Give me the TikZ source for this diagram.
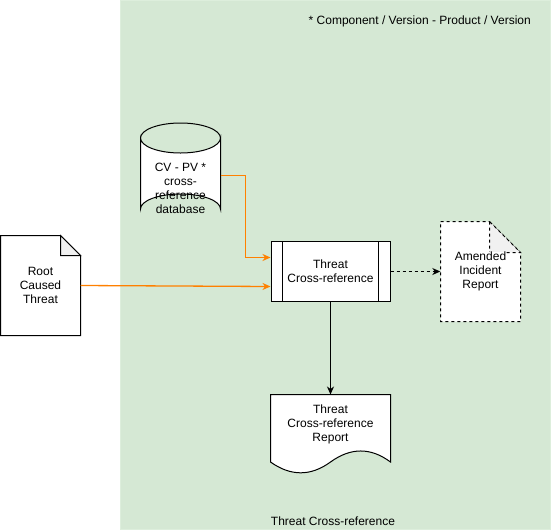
\documentclass[tikz,border=0pt]{standalone}
\usepackage{fontspec}
\setmainfont{Liberation Sans}
\usetikzlibrary{arrows.meta,calc}
\definecolor{grp}{HTML}{D5E8D4}
\definecolor{grpline}{HTML}{DDEEDC}
\definecolor{orng}{HTML}{FF8000}
\definecolor{foldc}{HTML}{F1F1F1}
\tikzset{
  lbl/.style={font=\fontsize{12}{14}\selectfont, align=center, inner sep=0pt},
  shp/.style={draw=black, line width=1pt, fill=white},
  carrow/.style={-{Stealth[length=8pt,width=7pt,inset=2.5pt]}, line width=1pt},
  oarrow/.style={carrow, color=orng, line width=1.3pt},
}
\begin{document}
\begin{tikzpicture}[x=1pt,y=-1pt]
\useasboundingbox (0,0) rectangle (552,531);
% group
\fill[grp, draw=grpline] (120.5,0.5) rectangle (550.5,529.5);
\node[lbl] (grplbl) at (333,521) {Threat Cross-reference};
\node[lbl, anchor=east] (note) at (531,21) {* Component / Version - Product / Version};

% cylinder database
\path[shp] (140.5,138) -- (140.5,209) arc[start angle=180,end angle=360,x radius=40,y radius=15] -- (220.5,138)
  arc[start angle=0,end angle=180,x radius=40,y radius=15] -- cycle;
\draw[line width=1pt] (140.5,138) arc[start angle=180,end angle=360,x radius=40,y radius=15];
\node[lbl, minimum width=80pt, minimum height=100pt] (db) at (180.5,175.5) {};
\node[lbl] (dbtext) at (180.5,188) {CV - PV *\\cross-\\reference\\database};

% root caused threat document
\path[shp] (0.5,235.5) -- (60.5,235.5) -- (80.5,255.5) -- (80.5,335.5) -- (0.5,335.5) -- cycle;
\path[shp, fill=foldc] (60.5,235.5) -- (60.5,255.5) -- (80.5,255.5) -- cycle;
\node[lbl, minimum width=80pt, minimum height=100pt] (rct) at (40.5,285.5) {Root\\Caused\\Threat};

% process
\node[lbl, shp, minimum width=119pt, minimum height=60pt] (proc) at (330.5,271.5) {Threat\\Cross-reference};
\draw[line width=1pt] ($(proc.north west)+(12,0)$) -- ($(proc.south west)+(12,0)$);
\draw[line width=1pt] ($(proc.north east)+(-12,0)$) -- ($(proc.south east)+(-12,0)$);

% amended incident report (dashed document)
\path[shp, dashed] (440.5,221.5) -- (489.5,221.5) -- (520.5,252.5) -- (520.5,321.5) -- (440.5,321.5) -- cycle;
\path[shp, dashed, fill=foldc] (489.5,221.5) -- (489.5,252.5) -- (520.5,252.5) -- cycle;
\node[lbl, minimum width=80pt, minimum height=100pt] (amd) at (480.5,271.5) {};
\node[lbl, fill=white] (amdtext) at (480.5,271.5) {Amended\\Incident\\Report};

% threat cross-reference report (wavy document)
\path[shp] (270.5,394.5) -- (390.5,394.5) -- (390.5,462)
  .. controls (370.7,447.3) and (350.8,447.3) .. (330.5,462)
  .. controls (310.7,476.4) and (290.8,476.4) .. (270.5,462) -- cycle;
\node[lbl, minimum width=120pt, minimum height=68pt, anchor=north] (rep) at (330.5,394.5) {};
\node[lbl] (reptext) at (330.5,424) {Threat\\Cross-reference\\Report};

% connectors
\coordinate (bend) at (245.5,175.5);
\draw[oarrow] (db.east) -- (bend) |- ([yshift=14pt]proc.west);
\draw[oarrow] (rct.east) -- ([yshift=-15pt]proc.west);
\draw[carrow, dashed] (proc.east) -- (amd.west);
\draw[carrow] (proc.south) -- (rep.north);
\end{tikzpicture}
\end{document}
